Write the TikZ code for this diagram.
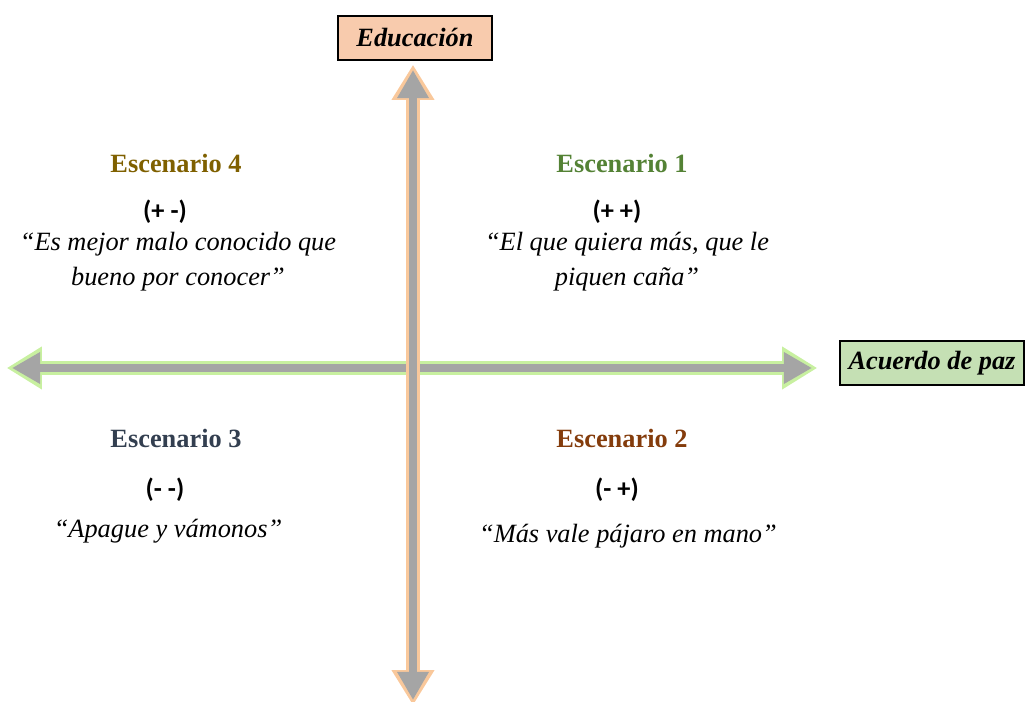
\documentclass[tikz,border=0pt]{standalone}
\usepackage{fontspec}
\setmainfont{Liberation Serif}
\newfontfamily\signfont{Carlito}
\usetikzlibrary{arrows.meta}
\definecolor{eduFill}{HTML}{F8CBAD}
\definecolor{pazFill}{HTML}{C5E0B4}
\definecolor{glowO}{HTML}{F9C89B}
\definecolor{glowG}{HTML}{C8F0A0}
\definecolor{axisGray}{HTML}{A5A5A5}
\definecolor{escA}{HTML}{548235}
\definecolor{escB}{HTML}{843C0C}
\definecolor{escC}{HTML}{333F50}
\definecolor{escD}{HTML}{7F6000}
\begin{document}
\begin{tikzpicture}[x=0.02cm, y=-0.02cm,
        axis/.style={{Triangle[width=17pt, length=16pt]}-{Triangle[width=17pt, length=16pt]}, line width=4.5pt, axisGray},
        glow/.style={{Triangle[width=23pt, length=20pt]}-{Triangle[width=23pt, length=20pt]}, line width=8pt, shorten <=-3pt, shorten >=-3pt, #1},
        label/.style={rectangle, draw=black, line width=1.3pt, font=\fontsize{15}{18}\selectfont\bfseries\itshape, minimum height=0.88cm, inner sep=4pt},
        title/.style={font=\fontsize{15}{18}\selectfont\bfseries},
        sign/.style={font=\signfont\fontsize{15}{18}\selectfont\bfseries},
        quote/.style={font=\fontsize{15}{20}\selectfont\itshape, align=center}
    ]
    \useasboundingbox (0,0) rectangle (1025,702);
    % axes
    \coordinate (west) at (12,368);
    \coordinate (east) at (812,368);
    \coordinate (north) at (413,70);
    \coordinate (south) at (413,700);
    \draw[glow=glowG] (west) -- (east);
    \draw[axis] (west) -- (east);
    \draw[glow=glowO] (south) -- (north);
    \draw[axis] (south) -- (north);
    % axis labels
    \node[label, fill=eduFill, minimum width=3.08cm] (edu) at (415,38) {Educación};
    \node[label, fill=pazFill, minimum width=3.68cm] (paz) at (932,363) {Acuerdo de paz};
    % scenarios
    \node[title, text=escD] (esc4) at (176,163) {Escenario 4};
    \node[sign] (sig4) at (165,212) {(+ -)};
    \node[quote] (quo4) at (178,262) {“Es mejor malo conocido que\\bueno por conocer”};
    \node[title, text=escA] (esc1) at (622,163) {Escenario 1};
    \node[sign] (sig1) at (617,212) {(+ +)};
    \node[quote] (quo1) at (627,262) {“El que quiera más, que le\\piquen caña”};
    \node[title, text=escC] (esc3) at (176,438) {Escenario 3};
    \node[sign] (sig3) at (165,490) {(- -)};
    \node[quote] (quo3) at (168,531) {“Apague y vámonos”};
    \node[title, text=escB] (esc2) at (622,438) {Escenario 2};
    \node[sign] (sig2) at (617,490) {(- +)};
    \node[quote] (quo2) at (628,536) {“Más vale pájaro en mano”};
\end{tikzpicture}
\end{document}
